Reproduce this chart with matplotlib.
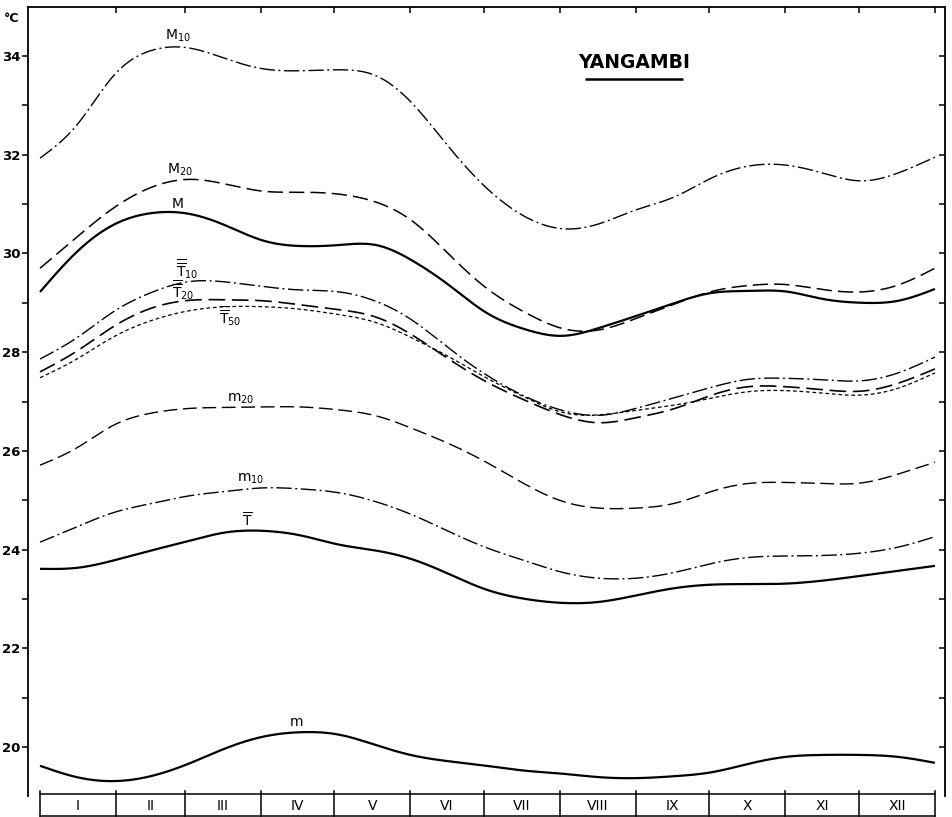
import numpy as np
import matplotlib
matplotlib.use("Agg")
import matplotlib.pyplot as plt

# Day of year at which every curve is sampled (roughly twice a month)
days = [0, 15, 30, 46, 61, 76, 91, 106, 122, 137, 152, 167, 182,
        198, 213, 228, 243, 259, 274, 289, 304, 319, 335, 350, 365]

# Temperatures (deg C)
M10 = [31.93, 32.6, 33.6, 34.12, 34.16, 33.94, 33.74, 33.70, 33.72, 33.6, 33.03, 32.14, 31.33,
       30.74, 30.5, 30.6, 30.88, 31.15, 31.53, 31.77, 31.79, 31.63, 31.47, 31.63, 31.95]
M20 = [29.7, 30.33, 30.92, 31.35, 31.5, 31.4, 31.26, 31.24, 31.2, 31.04, 30.65, 29.97, 29.3,
       28.8, 28.48, 28.45, 28.68, 28.98, 29.23, 29.35, 29.37, 29.27, 29.22, 29.36, 29.7]
M = [29.22, 30.03, 30.58, 30.82, 30.8, 30.56, 30.26, 30.15, 30.17, 30.17, 29.85, 29.35, 28.8,
     28.46, 28.33, 28.49, 28.73, 29.0, 29.2, 29.24, 29.23, 29.08, 29.0, 29.04, 29.28]
T10 = [27.86, 28.29, 28.82, 29.22, 29.43, 29.42, 29.33, 29.26, 29.22, 29.03, 28.64, 28.07, 27.54,
       27.1, 26.82, 26.72, 26.86, 27.08, 27.29, 27.45, 27.47, 27.44, 27.42, 27.58, 27.9]
T20 = [27.6, 28.02, 28.52, 28.9, 29.05, 29.06, 29.04, 28.96, 28.86, 28.71, 28.34, 27.85, 27.4,
       27.02, 26.72, 26.57, 26.67, 26.86, 27.13, 27.3, 27.3, 27.24, 27.21, 27.37, 27.66]
T50 = [27.48, 27.86, 28.31, 28.65, 28.84, 28.92, 28.92, 28.87, 28.76, 28.6, 28.28, 27.9, 27.48,
       27.08, 26.78, 26.73, 26.82, 26.93, 27.07, 27.2, 27.22, 27.17, 27.13, 27.27, 27.58]
m20 = [25.71, 26.06, 26.52, 26.77, 26.86, 26.88, 26.89, 26.89, 26.83, 26.71, 26.45, 26.14, 25.77,
       25.32, 24.98, 24.84, 24.84, 24.94, 25.18, 25.34, 25.36, 25.34, 25.35, 25.53, 25.77]
m10 = [24.15, 24.46, 24.75, 24.94, 25.09, 25.18, 25.25, 25.23, 25.15, 24.97, 24.7, 24.36, 24.04,
       23.77, 23.54, 23.42, 23.42, 23.54, 23.72, 23.84, 23.87, 23.88, 23.93, 24.05, 24.26]
T = [23.61, 23.63, 23.78, 23.99, 24.18, 24.35, 24.38, 24.29, 24.1, 23.98, 23.8, 23.5, 23.19,
     23.0, 22.92, 22.94, 23.07, 23.22, 23.29, 23.3, 23.31, 23.37, 23.47, 23.57, 23.67]
m = [19.62, 19.39, 19.31, 19.42, 19.67, 19.98, 20.21, 20.3, 20.25, 20.04, 19.83, 19.71, 19.62,
     19.52, 19.46, 19.39, 19.37, 19.41, 19.49, 19.66, 19.8, 19.84, 19.84, 19.8, 19.68]

month_edges = [0, 31, 59, 90, 120, 151, 181, 212, 243, 273, 304, 334, 365]
month_names = ["I", "II", "III", "IV", "V", "VI", "VII", "VIII", "IX", "X", "XI", "XII"]

station = "YANGAMBI"


def natural_spline(x, y, xs):
    x = np.asarray(x, float)
    y = np.asarray(y, float)
    n = len(x)
    h = np.diff(x)
    A = np.zeros((n, n))
    r = np.zeros(n)
    A[0, 0] = A[-1, -1] = 1.0
    for i in range(1, n - 1):
        A[i, i - 1] = h[i - 1]
        A[i, i] = 2 * (h[i - 1] + h[i])
        A[i, i + 1] = h[i]
        r[i] = 6 * ((y[i + 1] - y[i]) / h[i] - (y[i] - y[i - 1]) / h[i - 1])
    M2 = np.linalg.solve(A, r)
    k = np.clip(np.searchsorted(x, xs) - 1, 0, n - 2)
    t0, t1 = x[k], x[k + 1]
    hk = t1 - t0
    a = (t1 - xs) / hk
    b = (xs - t0) / hk
    return (a * y[k] + b * y[k + 1]
            + ((a ** 3 - a) * M2[k] + (b ** 3 - b) * M2[k + 1]) * hk ** 2 / 6)


W, H = 953, 817
fig = plt.figure(figsize=(W / 100, H / 100), dpi=100)
fig.patch.set_facecolor("white")

x_left_px, x_right_px = 28, 945
y_top_px, y_bot_px = 6.6, 796.4
ax = fig.add_axes([x_left_px / W, 1 - y_bot_px / H,
                   (x_right_px - x_left_px) / W, (y_bot_px - y_top_px) / H])
xlim = (-4.9, 369.1)
ax.set_xlim(*xlim)
ax.set_ylim(19, 35)

xs = np.linspace(days[0], days[-1], 800)

dashdot = (0, (11, 2.6, 1.4, 2.6))
longdash = (0, (10, 4))
shortdash = (0, (3, 2.2))

series = [
    (M10, dashdot, 1.0),
    (M20, longdash, 1.1),
    (M, "-", 1.6),
    (T10, dashdot, 1.0),
    (T20, longdash, 1.2),
    (T50, shortdash, 0.9),
    (m20, longdash, 1.0),
    (m10, dashdot, 1.0),
    (T, "-", 1.6),
    (m, "-", 1.6),
]
for vals, ls, lw in series:
    ax.plot(xs, natural_spline(days, vals, xs), color="black", linestyle=ls, lw=lw,
            solid_capstyle="butt", dash_capstyle="butt")

lab = dict(color="black", fontsize=10, ha="center", va="center")
ax.text(56.3, 34.40, r"$\mathsf{M}_{\mathsf{10}}$", **lab)
ax.text(57.1, 31.69, r"$\mathsf{M}_{\mathsf{20}}$", **lab)
ax.text(55.9, 31.00, r"$\mathsf{M}$", **lab)
ax.text(60.0, 29.68, r"$\overline{\overline{\mathsf{T}}}_{\mathsf{10}}$", **lab)
ax.text(58.3, 29.26, r"$\overline{\overline{\mathsf{T}}}_{\mathsf{20}}$", **lab)
ax.text(77.5, 28.73, r"$\overline{\overline{\mathsf{T}}}_{\mathsf{50}}$", **lab)
ax.text(82.0, 27.05, r"$\mathsf{m}_{\mathsf{20}}$", **lab)
ax.text(86.0, 25.43, r"$\mathsf{m}_{\mathsf{10}}$", **lab)
ax.text(84.4, 24.60, r"$\overline{\mathsf{T}}$", **lab)
ax.text(104.4, 20.50, r"$\mathsf{m}$", **lab)

# station name with underline
ax.text(242.3, 33.86, station, fontsize=13.5, fontweight="bold", ha="center", va="center")
ax.plot([222.3, 262.2], [33.53, 33.53], color="black", lw=1.8, solid_capstyle="butt")

# axes frame and ticks
for side in ("left", "top", "right"):
    ax.spines[side].set_linewidth(1.3)
ax.spines["bottom"].set_visible(False)

ax.set_yticks(np.arange(20, 35, 2))
ax.set_yticks(np.arange(21, 35, 2), minor=True)
ax.tick_params(axis="y", which="both", direction="out", length=4.5, width=1.1,
               labelsize=9.5, pad=1, left=True, right=False)
for t in ax.get_yticklabels():
    t.set_fontweight("bold")

ax.set_xticks(month_edges[1:])
ax.tick_params(axis="x", which="both", direction="in", length=4.5, width=1.1,
               top=True, bottom=False, labelbottom=False, labeltop=False)

axr = ax.twinx()
axr.set_ylim(19, 35)
axr.set_yticks(np.arange(20, 35, 1))
axr.tick_params(axis="y", direction="in", length=4, width=1.1, labelright=False,
                right=True, left=False)
for s in axr.spines.values():
    s.set_visible(False)

fig.text(12 / W, 1 - 18 / H, "°C", fontsize=9, fontweight="bold", ha="center", va="center")

# month strip along the bottom
strip_top_px, strip_bot_px = 794, 816
axs = fig.add_axes([x_left_px / W, 1 - strip_bot_px / H,
                    (x_right_px - x_left_px) / W, (strip_bot_px - strip_top_px) / H])
axs.set_xlim(*xlim)
axs.set_ylim(0, 1)
axs.axis("off")
axs.plot([month_edges[0], month_edges[-1]], [1, 1], color="black", lw=1.1, clip_on=False)
axs.plot([month_edges[0], month_edges[-1]], [0, 0], color="black", lw=1.1, clip_on=False)
for e in month_edges:
    axs.plot([e, e], [0, 1.15], color="black", lw=1.1, clip_on=False)
for i, name in enumerate(month_names):
    cx = 0.5 * (month_edges[i] + month_edges[i + 1])
    axs.text(cx, 0.45, name, fontsize=10, ha="center", va="center")

fig.savefig("out.png", dpi=100, facecolor="white")
